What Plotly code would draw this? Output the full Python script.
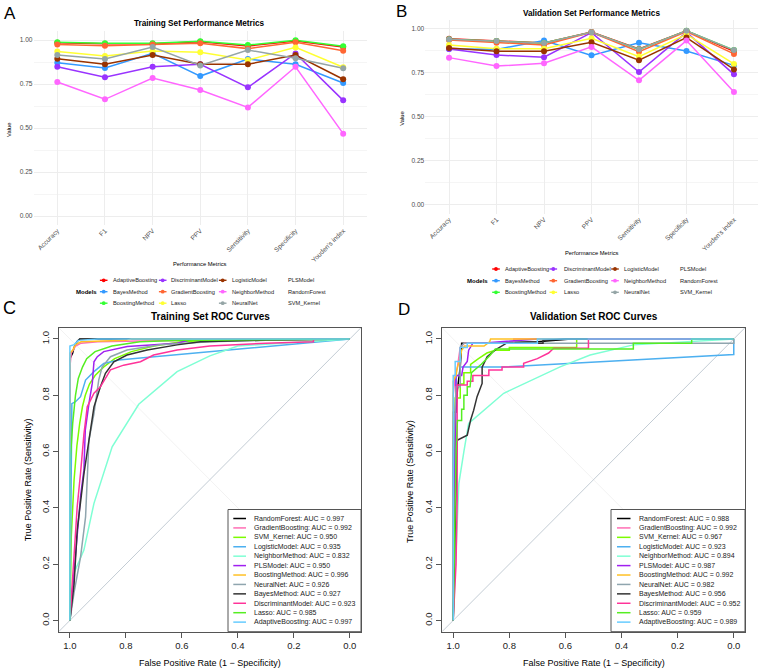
import plotly.graph_objects as go

W, H = 767, 672
def fx(px): return px / W
def fy(py): return 1 - py / H

FONT = "Liberation Sans, Arial, sans-serif"

# ---------------- data: performance metrics ----------------
metrics = ["Accuracy", "F1", "NPV", "PPV", "Sensitivity", "Specificity", "Youden's index"]
models_with_lines = ["AdaptiveBoosting", "BayesMethod", "BoostingMethod", "DiscriminantModel",
                     "GradientBoosting", "Lasso", "LogisticModel", "NeighborMethod", "NeuralNet"]
legend_models = ["AdaptiveBoosting", "BayesMethod", "BoostingMethod", "DiscriminantModel",
                 "GradientBoosting", "Lasso", "LogisticModel", "NeighborMethod", "NeuralNet",
                 "PLSModel", "RandomForest", "SVM_Kernel"]

train_AdaptiveBoosting = [0.985, 0.979, 0.979, 0.990, 0.966, 0.994, 0.960]
train_BayesMethod = [0.871, 0.841, 0.924, 0.795, 0.892, 0.862, 0.756]
train_BoostingMethod = [0.987, 0.982, 0.982, 0.993, 0.971, 0.998, 0.964]
train_DiscriminantModel = [0.848, 0.788, 0.848, 0.862, 0.731, 0.924, 0.657]
train_GradientBoosting = [0.975, 0.968, 0.975, 0.981, 0.951, 0.987, 0.939]
train_Lasso = [0.934, 0.909, 0.937, 0.930, 0.886, 0.958, 0.845]
train_LogisticModel = [0.894, 0.862, 0.915, 0.862, 0.862, 0.915, 0.777]
train_NeighborMethod = [0.761, 0.663, 0.784, 0.716, 0.617, 0.848, 0.468]
train_NeuralNet = [0.915, 0.892, 0.960, 0.855, 0.943, 0.896, 0.839]

valid_AdaptiveBoosting = [0.945, 0.932, 0.920, 0.983, 0.886, 0.989, 0.873]
valid_BayesMethod = [0.886, 0.884, 0.935, 0.850, 0.922, 0.875, 0.793]
valid_BoostingMethod = [0.941, 0.932, 0.920, 0.981, 0.884, 0.990, 0.880]
valid_DiscriminantModel = [0.886, 0.852, 0.839, 0.979, 0.755, 0.981, 0.742]
valid_GradientBoosting = [0.937, 0.922, 0.909, 0.981, 0.871, 0.985, 0.858]
valid_Lasso = [0.909, 0.888, 0.888, 0.947, 0.843, 0.970, 0.801]
valid_LogisticModel = [0.892, 0.873, 0.873, 0.924, 0.822, 0.951, 0.770]
valid_NeighborMethod = [0.837, 0.789, 0.805, 0.898, 0.708, 0.934, 0.641]
valid_NeuralNet = [0.941, 0.932, 0.920, 0.981, 0.884, 0.990, 0.880]

train_vals = {"AdaptiveBoosting": train_AdaptiveBoosting, "BayesMethod": train_BayesMethod,
              "BoostingMethod": train_BoostingMethod, "DiscriminantModel": train_DiscriminantModel,
              "GradientBoosting": train_GradientBoosting, "Lasso": train_Lasso,
              "LogisticModel": train_LogisticModel, "NeighborMethod": train_NeighborMethod,
              "NeuralNet": train_NeuralNet}
valid_vals = {"AdaptiveBoosting": valid_AdaptiveBoosting, "BayesMethod": valid_BayesMethod,
              "BoostingMethod": valid_BoostingMethod, "DiscriminantModel": valid_DiscriminantModel,
              "GradientBoosting": valid_GradientBoosting, "Lasso": valid_Lasso,
              "LogisticModel": valid_LogisticModel, "NeighborMethod": valid_NeighborMethod,
              "NeuralNet": valid_NeuralNet}

metric_colors = {"AdaptiveBoosting": "#FF0000", "BayesMethod": "#3399FF", "BoostingMethod": "#33FF33",
                 "DiscriminantModel": "#9933FF", "GradientBoosting": "#FF6633", "Lasso": "#FFFF33",
                 "LogisticModel": "#993300", "NeighborMethod": "#FF66FF", "NeuralNet": "#95A5A6"}

# ---------------- data: ROC curves (specificity, sensitivity) ----------------
roc_models = ["RandomForest", "GradientBoosting", "SVM_Kernel", "LogisticModel", "NeighborMethod",
              "PLSModel", "BoostingMethod", "NeuralNet", "BayesMethod", "DiscriminantModel",
              "Lasso", "AdaptiveBoosting"]
auc_train = ["0.997", "0.992", "0.950", "0.935", "0.832", "0.950", "0.996", "0.926", "0.927", "0.923", "0.985", "0.997"]
auc_valid = ["0.988", "0.992", "0.967", "0.923", "0.894", "0.987", "0.992", "0.982", "0.956", "0.952", "0.959", "0.989"]

roc_colors = {"RandomForest": "#000000", "GradientBoosting": "#FF6EB4", "SVM_Kernel": "#7CFC00",
              "LogisticModel": "#4DB0F0", "NeighborMethod": "#7FFFD4", "PLSModel": "#A020F0",
              "BoostingMethod": "#FFC125", "NeuralNet": "#8FA5AE", "BayesMethod": "#333333",
              "DiscriminantModel": "#FF3399", "Lasso": "#55EE22", "AdaptiveBoosting": "#66CCFF"}

train_roc = {
    "RandomForest": ([1, 1, 0.99, 0.985, 0.975, 0.965, 0], [0, 0.93, 0.95, 0.97, 0.99, 1, 1]),
    "GradientBoosting": ([1, 1, 0.995, 0.99, 0.98, 0.96, 0.9, 0.75, 0.5, 0],
                         [0, 0.9, 0.95, 0.96, 0.975, 0.985, 0.99, 0.993, 0.995, 1]),
    "SVM_Kernel": ([1, 0.995, 0.985, 0.975, 0.965, 0.955, 0.945, 0.93, 0.91, 0.88, 0.84, 0.78, 0.7, 0.6, 0.5, 0],
                   [0, 0.3, 0.5, 0.62, 0.7, 0.76, 0.8, 0.84, 0.87, 0.9, 0.93, 0.955, 0.975, 0.99, 0.995, 1]),
    "LogisticModel": ([1, 0.997, 0.993, 0.98, 0.962, 0.944, 0.914, 0.879, 0.825, 0.748, 0],
                      [0, 0.5, 0.77, 0.777, 0.795, 0.854, 0.884, 0.913, 0.925, 0.932, 1]),
    "NeighborMethod": ([1, 0.986, 0.95, 0.914, 0.849, 0.754, 0.617, 0.5, 0.4, 0],
                       [0, 0.167, 0.25, 0.416, 0.617, 0.768, 0.884, 0.94, 0.975, 1]),
    "PLSModel": ([1, 0.99, 0.98, 0.962, 0.95, 0.945, 0.932, 0.92, 0.914, 0.902, 0.879, 0.795, 0.617, 0.558, 0],
                 [0, 0.12, 0.225, 0.44, 0.534, 0.676, 0.77, 0.843, 0.919, 0.937, 0.955, 0.973, 0.985, 1, 1]),
    "BoostingMethod": ([1, 1, 0.99, 0.98, 0.96, 0.8, 0.78, 0], [0, 0.95, 0.96, 0.98, 0.99, 0.995, 1, 1]),
    "NeuralNet": ([1, 0.985, 0.962, 0.944, 0.932, 0.914, 0.897, 0.885, 0.855, 0.796, 0.677, 0.5, 0.3, 0],
                  [0, 0.1, 0.225, 0.368, 0.64, 0.735, 0.854, 0.9, 0.937, 0.961, 0.979, 0.99, 0.995, 1]),
    "BayesMethod": ([1, 0.985, 0.974, 0.962, 0.95, 0.938, 0.926, 0.914, 0.891, 0.873, 0.843, 0.796, 0.724, 0.617, 0.534, 0.297, 0],
                    [0, 0.13, 0.32, 0.43, 0.52, 0.6, 0.676, 0.759, 0.83, 0.878, 0.919, 0.943, 0.961, 0.979, 0.99, 0.996, 1]),
    "DiscriminantModel": ([1, 0.99, 0.98, 0.974, 0.962, 0.956, 0.95, 0.938, 0.914, 0.891, 0.855, 0.808, 0.748, 0.701, 0.617, 0.5, 0.3, 0.13, 0.13, 0],
                          [0, 0.15, 0.285, 0.403, 0.523, 0.605, 0.66, 0.759, 0.807, 0.83, 0.89, 0.907, 0.919, 0.943, 0.961, 0.975, 0.985, 0.99, 1, 1]),
    "Lasso": ([1, 1, 0.99, 0.98, 0.97, 0.955, 0.94, 0.91, 0.85, 0.75, 0.6, 0],
              [0, 0.55, 0.7, 0.8, 0.86, 0.9, 0.93, 0.955, 0.975, 0.99, 0.995, 1]),
    "AdaptiveBoosting": ([1, 1, 0.985, 0.97, 0.9, 0], [0, 0.975, 0.98, 0.995, 1, 1]),
}

valid_roc = {
    "RandomForest": ([1, 1, 0.99, 0.985, 0.975, 0.97, 0.9, 0.7, 0.58, 0],
                     [0, 0.74, 0.74, 0.82, 0.9, 0.985, 0.985, 0.99, 1, 1]),
    "GradientBoosting": ([1, 1, 0.993, 0.985, 0.975, 0.96, 0.784, 0.784, 0],
                         [0, 0.8, 0.87, 0.9, 0.97, 0.985, 0.985, 1, 1]),
    "SVM_Kernel": ([1, 0.993, 0.993, 0.975, 0.975, 0.962, 0.962, 0.938, 0.938, 0.91, 0.88, 0.85, 0.8, 0.8, 0.56, 0.56, 0],
                   [0, 0.6, 0.79, 0.79, 0.84, 0.84, 0.88, 0.88, 0.91, 0.93, 0.95, 0.96, 0.96, 0.97, 0.97, 1, 1]),
    "LogisticModel": ([1, 0.993, 0.99, 0.975, 0.975, 0.826, 0, 0], [0, 0.7, 0.87, 0.87, 0.9, 0.9, 0.945, 1]),
    "NeighborMethod": ([1, 0.98, 0.962, 0.945, 0.82, 0.619, 0.512, 0.358, 0],
                       [0, 0.486, 0.6, 0.7, 0.807, 0.901, 0.943, 0.979, 1]),
    "PLSModel": ([1, 0.993, 0.99, 0.97, 0.965, 0.95, 0.945, 0.93, 0.9, 0.7, 0],
                 [0, 0.8, 0.87, 0.87, 0.9, 0.92, 0.96, 0.985, 0.985, 1, 1]),
    "BoostingMethod": ([1, 1, 0.99, 0.985, 0.975, 0.97, 0.96, 0.89, 0.87, 0.867, 0],
                       [0, 0.85, 0.87, 0.9, 0.93, 0.96, 0.975, 0.975, 0.99, 1, 1]),
    "NeuralNet": ([1, 1, 0.99, 0.975, 0.975, 0.962, 0, 0], [0, 0.6, 0.83, 0.83, 0.97, 0.985, 0.985, 1]),
    "BayesMethod": ([1, 0.986, 0.95, 0.938, 0.927, 0.915, 0.897, 0.897, 0.879, 0.85, 0.81, 0.68, 0.68, 0.6, 0],
                    [0, 0.64, 0.658, 0.712, 0.747, 0.795, 0.842, 0.9, 0.937, 0.961, 0.985, 0.985, 0.995, 1, 1]),
    "DiscriminantModel": ([1, 0.99, 0.986, 0.986, 0.95, 0.95, 0.93, 0.93, 0.873, 0.873, 0.826, 0.826, 0.749, 0.749, 0.7, 0.66, 0.642, 0.518, 0.518, 0],
                          [0, 0.2, 0.427, 0.836, 0.836, 0.85, 0.85, 0.87, 0.87, 0.89, 0.89, 0.9, 0.9, 0.914, 0.93, 0.95, 0.967, 0.967, 1, 1]),
    "Lasso": ([1, 0.99, 0.985, 0.97, 0.97, 0.962, 0.962, 0.95, 0.95, 0.94, 0.935, 0.9, 0.87, 0.85, 0.358, 0.358, 0.15, 0.15, 0],
              [0, 0.6, 0.71, 0.71, 0.75, 0.75, 0.8, 0.8, 0.83, 0.83, 0.88, 0.91, 0.94, 0.964, 0.964, 0.985, 0.985, 1, 1]),
    "AdaptiveBoosting": ([1, 1, 0.993, 0.993, 0.975, 0.975, 0.95, 0.95, 0.7, 0.7, 0],
                         [0, 0.87, 0.87, 0.92, 0.92, 0.97, 0.97, 0.985, 0.985, 1, 1]),
}

roc_ticks = [1.0, 0.8, 0.6, 0.4, 0.2, 0.0]
roc_ticktext = ["1.0", "0.8", "0.6", "0.4", "0.2", "0.0"]
val_ticks = [0, 0.25, 0.5, 0.75, 1.0]
val_ticktext = ["0.00", "0.25", "0.50", "0.75", "1.00"]

fig = go.Figure()

# ---------------- panels A & B traces ----------------
for vals, xa, ya in [(train_vals, "x", "y"), (valid_vals, "x2", "y2")]:
    for m in models_with_lines:
        fig.add_trace(go.Scatter(x=metrics, y=vals[m], mode="lines", name=m,
                                 line=dict(color=metric_colors[m], width=1.5),
                                 xaxis=xa, yaxis=ya, showlegend=False, hoverinfo="skip"))
    for m in models_with_lines:
        fig.add_trace(go.Scatter(x=metrics, y=vals[m], mode="markers", name=m,
                                 marker=dict(color=metric_colors[m], size=6, line=dict(width=0)),
                                 xaxis=xa, yaxis=ya, showlegend=False))

# ---------------- panels C & D traces ----------------
for rocs, xa, ya in [(train_roc, "x3", "y3"), (valid_roc, "x4", "y4")]:
    for m in roc_models:
        sp, se = rocs[m]
        fig.add_trace(go.Scatter(x=sp, y=se, mode="lines", name=m,
                                 line=dict(color=roc_colors[m], width=1.5),
                                 xaxis=xa, yaxis=ya, showlegend=False))

# ---------------- axes ----------------
grid = "#EDEDED"
def metric_axes(xd, yd, anchor_x, anchor_y):
    xax = dict(domain=xd, range=[-0.5, 6.5], type="category", categoryorder="array",
               categoryarray=metrics, tickangle=-45, showgrid=True, gridcolor=grid, gridwidth=0.8,
               zeroline=False, showline=False, ticks="", anchor=anchor_y,
               tickfont=dict(size=6.6, color="#4D4D4D", family=FONT))
    yax = dict(domain=yd, range=[-0.05, 1.05], tickvals=val_ticks, ticktext=val_ticktext,
               showgrid=True, gridcolor=grid, gridwidth=0.8, zeroline=False, showline=False, ticks="",
               anchor=anchor_x, tickfont=dict(size=6.6, color="#4D4D4D", family=FONT),
               minor=dict(tickvals=[0.125, 0.375, 0.625, 0.875], showgrid=True, gridcolor="#F5F5F5", gridwidth=0.5))
    return xax, yax

def roc_axes(xd, yd, anchor_x, anchor_y):
    common = dict(showgrid=False, zeroline=False, showline=True, mirror=True, linecolor="#555555",
                  linewidth=1, ticks="outside", ticklen=5, tickcolor="#555555", tickwidth=1,
                  tickfont=dict(size=9.5, color="#222222", family=FONT))
    xax = dict(domain=xd, range=[1.04, -0.04], tickvals=roc_ticks, ticktext=roc_ticktext,
               anchor=anchor_y, **common)
    yax = dict(domain=yd, range=[-0.04, 1.04], tickvals=roc_ticks, ticktext=roc_ticktext,
               tickangle=-90, anchor=anchor_x, **common)
    return xax, yax

xa1, ya1 = metric_axes([fx(33.5), fx(367)], [fy(224.8), fy(31.2)], "x", "y")
xa2, ya2 = metric_axes([fx(425.3), fx(757.7)], [fy(213.5), fy(20.2)], "x2", "y2")
xa3, ya3 = roc_axes([fx(58.7), fx(361)], [fy(631.7), fy(327.7)], "x3", "y3")
xa4, ya4 = roc_axes([fx(442), fx(745)], [fy(631.7), fy(327.7)], "x4", "y4")

shapes = []
annotations = []

def txt(px, py, s, size, xanchor="center", color="#000000", angle=0, yanchor="middle"):
    annotations.append(dict(x=fx(px), y=fy(py), xref="paper", yref="paper", text=s, showarrow=False,
                            xanchor=xanchor, yanchor=yanchor, textangle=angle,
                            font=dict(size=size, color=color, family=FONT)))

# diagonals for ROC panels
for xr, yr in [("x3", "y3"), ("x4", "y4")]:
    shapes.append(dict(type="line", xref=xr, yref=yr, x0=1.04, y0=1.04, x1=-0.04, y1=-0.04,
                       line=dict(color="#F2F2F2", width=1), layer="below"))
    shapes.append(dict(type="line", xref=xr, yref=yr, x0=1.04, y0=-0.04, x1=-0.04, y1=1.04,
                       line=dict(color="#C3CCD4", width=1), layer="below"))

# panel letters
txt(10, 13, "A", 17)
txt(401.5, 11, "B", 17)
txt(9.5, 308, "C", 18)
txt(404, 309, "D", 17)

# titles
txt(199, 24, "<b>Training Set Performance Metrics</b>", 8.2)
txt(591, 13.3, "<b>Validation Set Performance Metrics</b>", 8.2)
txt(210, 316.7, "<b>Training Set ROC Curves</b>", 10)
txt(593.5, 316.7, "<b>Validation Set ROC Curves</b>", 10)

# axis titles A/B
txt(9, 130, "Value", 5.8, angle=-90)
txt(401.7, 119, "Value", 5.8, angle=-90)
txt(199.7, 263.7, "Performance Metrics", 5.8)
txt(591.7, 252.7, "Performance Metrics", 5.8)

# axis titles C/D
txt(210, 662.7, "False Positive Rate (1 − Specificity)", 9)
txt(593.5, 662.7, "False Positive Rate (1 − Specificity)", 9)
txt(28.3, 480, "True Positive Rate (Sensitivity)", 9, angle=-90)
txt(410, 481, "True Positive Rate (Sensitivity)", 9, angle=-90)

# legends for A/B (3 rows x 4 columns)
def metric_legend(models_x, rows, key_x, text_x):
    txt(models_x, rows[1], "<b>Models</b>", 6.0)
    for i, m in enumerate(legend_models):
        c, r = divmod(i, 3)
        py = rows[r]
        if m in metric_colors:
            kx = key_x[c]
            shapes.append(dict(type="line", xref="paper", yref="paper", x0=fx(kx - 3.8), x1=fx(kx + 3.8),
                               y0=fy(py), y1=fy(py), line=dict(color=metric_colors[m], width=1.4)))
            shapes.append(dict(type="circle", xref="paper", yref="paper", x0=fx(kx - 1.9), x1=fx(kx + 1.9),
                               y0=fy(py + 1.9), y1=fy(py - 1.9), fillcolor=metric_colors[m],
                               line=dict(width=0)))
        txt(text_x[c], py, m, 5.7, xanchor="left", color="#222222")

metric_legend(86.4, [280.3, 291.7, 303.2], [103.7, 162.7, 222.7, 279], [111, 169.3, 230, 286])
metric_legend(477, [269, 280.7, 292.3], [496, 553.3, 615, 671], [503.3, 561.7, 622.3, 678.3])

# legends for C/D
def roc_legend(box_x0, box_x1, key_x0, key_x1, text_x, aucs):
    shapes.append(dict(type="rect", xref="paper", yref="paper", x0=fx(box_x0), x1=fx(box_x1),
                       y0=fy(631.7), y1=fy(509.5), line=dict(color="#555555", width=1),
                       fillcolor="white"))
    for i, m in enumerate(roc_models):
        py = 518.5 + i * 9.42
        shapes.append(dict(type="line", xref="paper", yref="paper", x0=fx(key_x0), x1=fx(key_x1),
                           y0=fy(py), y1=fy(py), line=dict(color=roc_colors[m], width=1.5)))
        txt(text_x, py, f"{m}: AUC = {aucs[i]}", 7.0, xanchor="left", color="#222222")

roc_legend(228, 361, 233.3, 246, 252.3, auc_train)
roc_legend(611, 745, 617, 630.5, 636.5, auc_valid)

fig.update_layout(
    width=W, height=H, margin=dict(l=0, r=0, t=0, b=0),
    paper_bgcolor="white", plot_bgcolor="white", showlegend=False,
    font=dict(family=FONT),
    xaxis=xa1, yaxis=ya1, xaxis2=xa2, yaxis2=ya2,
    xaxis3=xa3, yaxis3=ya3, xaxis4=xa4, yaxis4=ya4,
    shapes=shapes, annotations=annotations,
)

fig.write_html("out.html")
